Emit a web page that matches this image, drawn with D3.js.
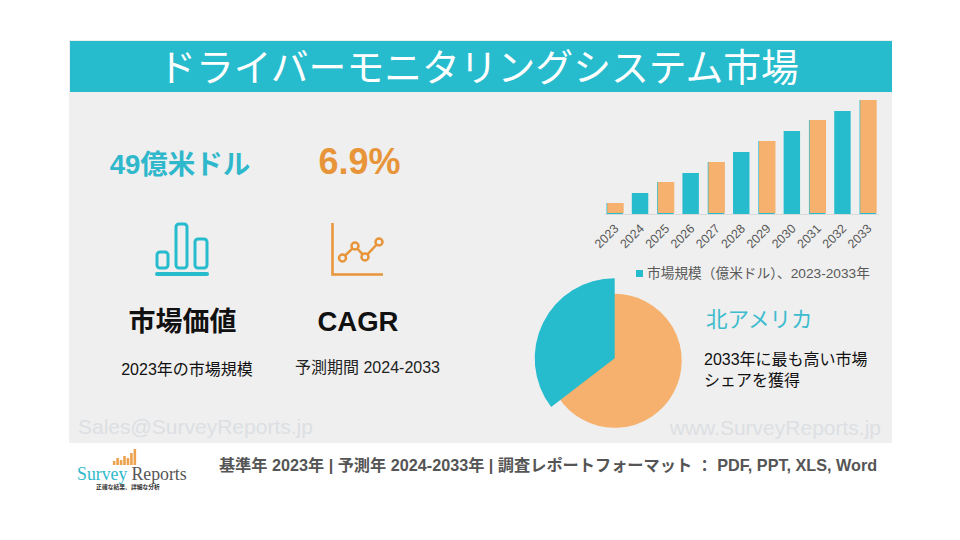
<!DOCTYPE html>
<html>
<head>
<meta charset="utf-8">
<script src="https://cdn.jsdelivr.net/npm/d3@7"></script>
<style>
  html, body { margin: 0; padding: 0; background: #fff; }
  svg { display: block; }
  text { font-family: "Liberation Sans", "Noto Sans CJK JP", sans-serif; }
</style>
</head>
<body>
<div id="chart"></div>
<script>
/** Data. The bar axis is hidden, so values are relative bar heights. */
const YEARS = ["2023", "2024", "2025", "2026", "2027", "2028", "2029", "2030", "2031", "2032", "2033"];
const MARKET_SIZE = [11, 21, 32, 41, 52, 62, 73, 83, 94, 103, 114];
const REGIONS = ["その他", "北アメリカ"];
const REGION_SHARE = [64.6, 35.4];
const LOGO_BARS = [4, 7, 5, 9, 7, 12, 16];

const WIDTH = 960;
const HEIGHT = 540;
const TEAL = "#27bccd";
const ORANGE = "#f5b16d";
const DARK_ORANGE = "#e8953a";
const PANEL = {left: 69, right: 892, top: 40, bottom: 443};

const svg = d3.select("#chart").append("svg")
    .attr("width", WIDTH)
    .attr("height", HEIGHT);

function label(x, y, str, size, fill, opts = {}) {
    return svg.append("text")
        .attr("x", x)
        .attr("y", y)
        .attr("font-size", size)
        .attr("fill", fill)
        .attr("font-weight", opts.weight || "normal")
        .attr("text-anchor", opts.anchor || "middle")
        .text(str);
}

/** Background. */
svg.append("rect")
    .attr("x", PANEL.left).attr("y", PANEL.top)
    .attr("width", PANEL.right - PANEL.left).attr("height", PANEL.bottom - PANEL.top)
    .attr("fill", "#efefef");
svg.append("rect")
    .attr("x", PANEL.left + 1).attr("y", 41)
    .attr("width", PANEL.right - PANEL.left - 1).attr("height", 51)
    .attr("fill", TEAL);
label(478.5, 81, "ドライバーモニタリングシステム市場", 37.8, "#fff");

/** Watermarks. */
label(78, 434, "Sales@SurveyReports.jp", 21, "#dcdfe3", {anchor: "start"});
label(881, 435, "www.SurveyReports.jp", 21, "#dcdfe3", {anchor: "end"});

/** Left side figures. */
label(180, 174, "49億米ドル", 27.5, "#2fb8cb", {weight: "bold"});
label(359.5, 173.5, "6.9%", 36, DARK_ORANGE, {weight: "bold"});
label(182.5, 331, "市場価値", 27, "#111", {weight: "bold"});
label(358, 331, "CAGR", 27.5, "#111", {weight: "bold"});
label(187, 375, "2023年の市場規模", 16, "#111");
label(367.5, 373, "予測期間 2024-2033", 16, "#222");

// Bar chart icon.
const barIcon = svg.append("g").attr("fill", "none").attr("stroke", TEAL).attr("stroke-width", 3);
[[157, 252, 11, 16], [176, 224, 11, 44], [195, 239, 12, 29]].forEach(([x, y, w, h]) => {
    barIcon.append("rect")
        .attr("x", x).attr("y", y)
        .attr("width", w).attr("height", h)
        .attr("rx", 3);
});
barIcon.append("line")
    .attr("x1", 157).attr("x2", 207)
    .attr("y1", 274).attr("y2", 274)
    .attr("stroke-width", 4)
    .attr("stroke-linecap", "round");

// Line chart icon.
const lineIcon = svg.append("g").attr("fill", "none").attr("stroke", DARK_ORANGE).attr("stroke-width", 2.5);
lineIcon.append("path")
    .attr("d", "M332.5,223V274.5H383");
const iconPoints = [[342.5, 258], [355, 246], [365, 257], [379, 242]];
lineIcon.append("path").attr("d", d3.line()(iconPoints));
lineIcon.selectAll("circle")
    .data(iconPoints)
    .join("circle")
    .attr("cx", d => d[0])
    .attr("cy", d => d[1])
    .attr("r", 3.5)
    .attr("fill", "#efefef");

/** Bars. */
const x = d3.scaleBand()
    .domain(YEARS)
    .range([604, 878.5])
    .paddingInner(0.35)
    .paddingOuter(0.1);
const y = d3.scaleLinear()
    .domain([0, d3.max(MARKET_SIZE)])
    .range([214, 100]);

const bars = svg.append("g");
bars.selectAll("rect.base")
    .data(YEARS)
    .join("rect")
    .attr("class", "base")
    .attr("x", d => x(d))
    .attr("y", (d, i) => y(MARKET_SIZE[i]))
    .attr("width", x.bandwidth())
    .attr("height", (d, i) => y(0) - y(MARKET_SIZE[i]))
    .attr("fill", TEAL);
bars.selectAll("rect.top")
    .data(YEARS.filter((d, i) => i % 2 === 0))
    .join("rect")
    .attr("class", "top")
    .attr("x", d => x(d) + 0.7)
    .attr("y", d => y(MARKET_SIZE[YEARS.indexOf(d)]))
    .attr("width", x.bandwidth())
    .attr("height", d => y(0) - y(MARKET_SIZE[YEARS.indexOf(d)]) - 1)
    .attr("fill", ORANGE);

const xAxis = svg.append("g")
    .attr("transform", "translate(0,214)")
    .call(d3.axisBottom(x).tickSize(0).tickPadding(8));
xAxis.select(".domain").attr("stroke", "#d9d9d9");
xAxis.selectAll("text")
    .attr("font-size", 12.5)
    .attr("fill", "#595959")
    .attr("text-anchor", "end")
    .attr("dx", "-0.6em")
    .attr("dy", "0.5em")
    .attr("transform", "rotate(-45)");

svg.append("rect")
    .attr("x", 636).attr("y", 270)
    .attr("width", 7).attr("height", 7)
    .attr("fill", TEAL);
label(647, 278, "市場規模（億米ドル）、2023-2033年", 13.7, "#595959", {anchor: "start"});

/** Pie. The orange slice has a thick stroke and runs on under the teal one, to close the seam. */
const PIE_OVERLAP = 0.08;
const pie = d3.pie().sort(null)(REGION_SHARE);
const pieRadius = [64.5, 80];
const pieShift = [2.5, 0];
svg.append("g")
    .selectAll("path")
    .data(pie)
    .join("path")
    .attr("transform", (d, i) => `translate(614.7,${358.3 + pieShift[i]})`)
    .attr("d", (d, i) => d3.arc()
        .innerRadius(0)
        .outerRadius(pieRadius[i])
        .endAngle(i === 0 ? d.endAngle + PIE_OVERLAP : d.endAngle)(d))
    .attr("fill", (d, i) => i === 0 ? ORANGE : TEAL)
    .attr("stroke", (d, i) => i === 0 ? ORANGE : "none")
    .attr("stroke-width", 5)
    .attr("stroke-linejoin", "round");

label(706, 327, REGIONS[1], 21.5, "#3dbccd", {anchor: "start"});
label(704, 365, "2033年に最も高い市場", 16, "#111", {anchor: "start"});
label(704, 386, "シェアを獲得", 16, "#111", {anchor: "start"});

/** Footer. */
const logoX = d3.scaleBand()
    .domain(d3.range(LOGO_BARS.length))
    .range([112, 137])
    .padding(0.25);
svg.append("g")
    .selectAll("rect")
    .data(LOGO_BARS)
    .join("rect")
    .attr("x", (d, i) => logoX(i))
    .attr("y", d => 465 - d)
    .attr("width", logoX.bandwidth())
    .attr("height", d => d)
    .attr("fill", "#eda24f");
svg.append("text")
    .attr("x", 77).attr("y", 480)
    .attr("font-size", 17.8)
    .style("font-family", "'Liberation Serif', serif")
    .call(t => t.append("tspan").attr("fill", "#2fb8cb").text("Survey"))
    .call(t => t.append("tspan").attr("fill", "#555").attr("dx", 4).text("Reports"));
label(128, 489, "正確な結果、詳細な分析", 5.8, "#333", {weight: "bold"});
label(548, 471, "基準年 2023年 | 予測年 2024-2033年 | 調査レポートフォーマット ： PDF, PPT, XLS, Word", 16.2, "#555", {weight: "bold"});
</script>
</body>
</html>
